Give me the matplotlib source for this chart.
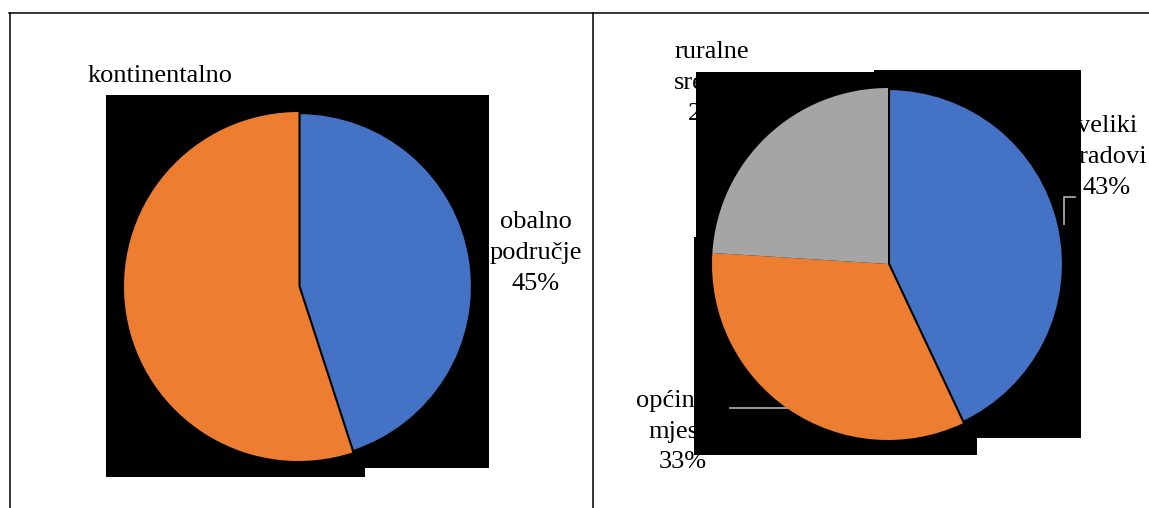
import numpy as np
import matplotlib
matplotlib.use("Agg")
import matplotlib.pyplot as plt
from matplotlib.patches import Rectangle

# data
left_labels = ['obalno\npodručje', 'kontinentalno']
left_values = [45, 55]
right_labels = ['veliki\ngradovi', 'općinska\nmjesta', 'ruralne\nsredine']
right_values = [43, 33, 24]
colors = ['#4472C4', '#ED7D31', '#A5A5A5']

W, H = 1149, 508
plt.rcParams['font.family'] = ['Liberation Serif', 'DejaVu Serif']

fig = plt.figure(figsize=(W / 100, H / 100), dpi=100)
ax = fig.add_axes([0, 0, 1, 1])

def Y(y):
    # pixel row -> data y
    return H - y

# black rendering blocks behind the pies (as in the source image)
blocks = [(106, 95, 489, 468), (106, 95, 365, 477),
          (696, 72, 1081, 438), (874, 70, 1081, 438), (694, 237, 977, 455)]
for x0, y0, x1, y1 in blocks:
    ax.add_patch(Rectangle((x0, Y(y1)), x1 - x0, y1 - y0, color='black', zorder=2, lw=0))

# pies
wl, _ = ax.pie(left_values, colors=colors[:2], startangle=90, counterclock=False,
               center=(298.5, Y(286.5)), radius=174.5, frame=True,
               wedgeprops=dict(zorder=3, linewidth=0))
wl[0].set_edgecolor('black')
wl[0].set_linewidth(3)

wr, _ = ax.pie(right_values, colors=colors, startangle=90, counterclock=False,
               center=(888, Y(264)), radius=176, frame=True,
               wedgeprops=dict(zorder=3, linewidth=0))
wr[0].set_edgecolor('black')
wr[0].set_linewidth(3)

# data labels (partly hidden behind the black blocks)
fs = 19
def label(x, y, name, val):
    ax.text(x, Y(y), f'{name}\n{val}%', ha='center', va='center', fontsize=fs,
            linespacing=1.5, zorder=1, color='black')

label(160, 91, left_labels[1], left_values[1])
label(536, 253, left_labels[0], left_values[0])
label(1107, 157, right_labels[0], right_values[0])
label(683, 432, right_labels[1], right_values[1])
label(712, 83, right_labels[2], right_values[2])

# leader lines
ax.plot([1064, 1064, 1075], [Y(224), Y(197), Y(197)], color='#a6a6a6', lw=1.3, zorder=2.5)
ax.plot([730, 792], [Y(408), Y(408)], color='#a6a6a6', lw=1.3, zorder=2.5)

# table borders
ax.plot([9, W], [Y(13), Y(13)], color='black', lw=1.1, zorder=4)
ax.plot([9.5, 9.5], [Y(13), 0], color='black', lw=1.1, zorder=4)
ax.plot([593, 593], [Y(13), 0], color='black', lw=1.1, zorder=4)

ax.set_xlim(0, W)
ax.set_ylim(0, H)
ax.set_aspect('auto')
ax.axis('off')

fig.savefig('out.png', dpi=100)
